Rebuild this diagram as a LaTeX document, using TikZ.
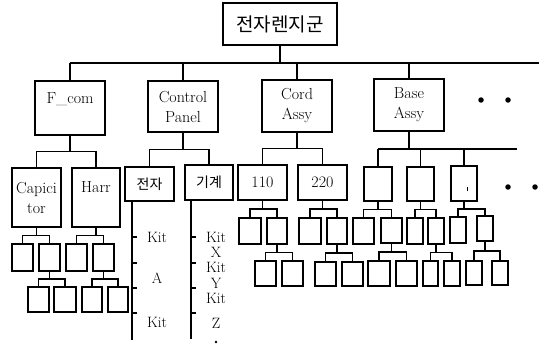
\documentclass[tikz,border=0pt]{standalone}
\usepackage{fontspec}
\newfontfamily\kr{Noto Sans CJK KR}
\usetikzlibrary{calc}
\tikzset{
  bx/.style={draw, line width=1.2pt, inner sep=1pt, outer sep=0pt, align=center,
    font=\fontsize{16}{20}\selectfont},
  krbig/.style={font=\kr\fontsize{19}{22}\selectfont},
  krsmall/.style={font=\kr\fontsize{14}{16}\selectfont},
  conn/.style={line width=1.3pt},
  lbl/.style={inner sep=0pt, font=\fontsize{15}{15}\selectfont},
  bigdot/.style={circle, fill, inner sep=0pt, minimum size=5.5pt},
  smalldot/.style={circle, fill, inner sep=0pt, minimum size=2.8pt},
}
% \bx[opts]{name}{x1}{y1}{x2}{y2}{text}
\newcommand\bx[7][]{%
  \pgfmathsetmacro\bxW{#5-#3}\pgfmathsetmacro\bxH{#6-#4}%
  \pgfmathsetmacro\bxX{(#3+#5)/2}\pgfmathsetmacro\bxY{(#4+#6)/2}%
  \node[bx,minimum width=\bxW pt,minimum height=\bxH pt,#1] (#2) at (\bxX pt,-\bxY pt) {#7};}
% two children tree connector
\newcommand\twokids[3]{%
  \coordinate (m) at ($(#1.south)!.5!(#2.north)$);
  \draw[conn] (#1.south) -- (#1.south |- m);
  \draw[conn] (#2.north) -- (#2.north |- m) -- (#3.north |- m) -- (#3.north);}
\begin{document}
\begin{tikzpicture}[x=1pt,y=1pt]
\useasboundingbox (0,0) rectangle (539,-348);
% root
\bx[krbig]{root}{223}{3}{337}{45}{전자렌지군}
% level 1
\bx{fcom}{35}{81}{105}{135}{F\_com\\\phantom{P}}
\bx{ctrl}{148}{81}{218}{132}{Control\\Panel}
\bx{cord}{262}{80}{332}{132}{Cord\\Assy}
\bx{base}{374}{79}{444}{131}{Base\\Assy}
\coordinate (topend) at (539,-63);
\coordinate (mt) at ($(root.south)!.5!(fcom.north)$);
\draw[conn] (root.south) -- (root.south |- mt);
\draw[conn] (fcom.north |- mt) -- (topend);
\foreach \c in {fcom,ctrl,cord,base} \draw[conn] (\c.north) -- (\c.north |- mt);
\node[bigdot] (dA) at (481,-100) {};
\node[bigdot] (dB) at (508,-100) {};
% level 2
\bx{cap}{12}{168}{61}{227}{Capici\\tor}
\bx{harr}{72}{168}{120}{227}{Harr\\\phantom{t}}
\bx[krsmall]{jeonja}{125}{167}{174}{201}{전자}
\bx[krsmall]{gigye}{185}{165}{233}{200}{기계}
\bx{n110}{238}{165}{287}{200}{110}
\bx{n220}{298}{165}{347}{200}{220}
\bx{b1}{364}{167}{392}{201}{}
\bx{b2}{407}{167}{434}{201}{}
\bx{b3}{451}{166}{477}{201}{}
\draw[line width=1pt] ($(b3.south)+(3,10)$) -- ++(0,4);
\twokids{fcom}{cap}{harr}
\twokids{ctrl}{jeonja}{gigye}
\twokids{cord}{n110}{n220}
\coordinate (mb) at ($(base.south)!.5!(b1.north)$);
\coordinate (baseend) at (517,-149);
\draw[conn] (base.south) -- (base.south |- mb);
\draw[conn] (b1.north |- mb) -- (baseend |- mb);
\foreach \c in {b1,b2,b3} \draw[conn] (\c.north) -- (\c.north |- mb);
\node[bigdot] (dC) at (508,-187) {};
\node[bigdot] (dD) at (535,-187) {};
% level 3
\bx{c1}{12}{244}{33}{271}{}
\bx{c2}{39}{244}{60}{271}{}
\bx{h1}{66}{244}{87}{271}{}
\bx{h2}{93}{244}{114}{271}{}
\bx{t1}{239}{218}{261}{244}{}
\bx{t2}{267}{218}{287}{244}{}
\bx{w1}{299}{218}{321}{244}{}
\bx{w2}{327}{218}{347}{244}{}
\bx{b1a}{353}{218}{374}{244}{}
\bx{b1b}{381}{218}{402}{243}{}
\bx{b2a}{407}{218}{423}{244}{}
\bx{b2b}{428}{218}{444}{244}{}
\bx{b3a}{450}{217}{466}{243}{}
\bx{b3b}{477}{216}{493}{241}{}
\twokids{cap}{c1}{c2}
\twokids{harr}{h1}{h2}
\twokids{n110}{t1}{t2}
\twokids{n220}{w1}{w2}
\twokids{b1}{b1a}{b1b}
\twokids{b2}{b2a}{b2b}
\twokids{b3}{b3a}{b3b}
% level 4
\bx{c2a}{28}{287}{49}{312}{}
\bx{c2b}{54}{287}{76}{312}{}
\bx{h2a}{82}{287}{102}{312}{}
\bx{h2b}{108}{287}{128}{312}{}
\bx{t2a}{255}{261}{276}{286}{}
\bx{t2b}{282}{261}{303}{286}{}
\bx{w2a}{315}{262}{336}{286}{}
\bx{w2b}{342}{262}{363}{286}{}
\bx{b1ba}{368}{261}{390}{286}{}
\bx{b1bb}{396}{261}{417}{286}{}
\bx{b2ba}{423}{261}{438}{286}{}
\bx{b2bb}{444}{261}{460}{286}{}
\bx{b3ba}{466}{261}{482}{285}{}
\bx{b3bb}{492}{261}{508}{285}{}
\twokids{c2}{c2a}{c2b}
\twokids{h2}{h2a}{h2b}
\twokids{t2}{t2a}{t2b}
\twokids{w2}{w2a}{w2b}
\twokids{b1b}{b1ba}{b1bb}
\twokids{b2b}{b2ba}{b2bb}
\twokids{b3b}{b3ba}{b3bb}
% list lines
\coordinate (je) at ([xshift=7pt]jeonja.south west);
\coordinate (jeEnd) at (je |- 0,-340);
\draw[conn] (je) -- (jeEnd);
\foreach \y in {237,263,288,313} \draw[conn] (je |- 0,-\y) -- ++(5,0);
\coordinate (gi) at ([xshift=6pt]gigye.south west);
\coordinate (giEnd) at (gi |- 0,-339);
\draw[conn] (gi) -- (giEnd);
\foreach \y in {237,263,288,313} \draw[conn] (gi |- 0,-\y) -- ++(5,0);
\node[lbl] (k1) at (157,-237) {Kit};
\node[lbl] (k2) at (157,-278) {A};
\node[lbl] (k3) at (157,-322) {Kit};
\node[lbl] (g1) at (216,-237) {Kit};
\node[lbl] (g2) at (216,-252) {X};
\node[lbl] (g3) at (216,-267) {Kit};
\node[lbl] (g4) at (216,-283) {Y};
\node[lbl] (g5) at (216,-298) {Kit};
\node[lbl] (g6) at (216,-323) {Z};
\node[smalldot] (g7) at (216,-342) {};
\end{tikzpicture}
\end{document}
